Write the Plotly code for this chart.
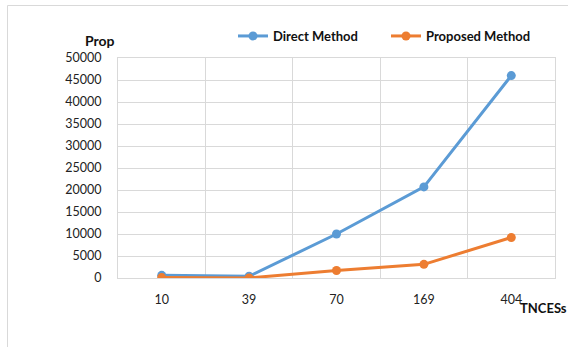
import plotly.graph_objects as go

# Problem sizes (number of TNCESs) and the measured Prop values
tnces = ["10", "39", "70", "169", "404"]
direct_method = [600, 400, 10000, 20700, 46000]
proposed_method = [100, 20, 1700, 3100, 9200]
y_ticks = list(range(0, 50001, 5000))

W, H = 568, 347
L, R, T, B = 118, 13, 58, 69
pw, ph = W - L - R, H - T - B

def px_x(x):
    return (x - L) / pw

def px_y(y):
    return (H - B - y) / ph

xpos = list(range(len(tnces)))

fig = go.Figure()
fig.add_trace(go.Scatter(
    x=xpos, y=direct_method, name="Direct Method", mode="lines+markers",
    line=dict(color="#5b9bd5", width=3), marker=dict(size=9, color="#5b9bd5"),
))
fig.add_trace(go.Scatter(
    x=xpos, y=proposed_method, name="Proposed Method", mode="lines+markers",
    line=dict(color="#ed7d31", width=3), marker=dict(size=9, color="#ed7d31"),
))

grid = "#d9d9d9"
fig.update_layout(
    width=W, height=H,
    margin=dict(l=L, r=R, t=T, b=B, pad=0),
    paper_bgcolor="white", plot_bgcolor="white",
    font=dict(family="Lato, 'Liberation Sans', sans-serif", size=12.5, color="#222"),
    showlegend=True,
    legend=dict(
        orientation="h", x=px_x(233), y=px_y(36), xanchor="left", yanchor="middle",
        font=dict(size=13, color="#111", family="Lato, sans-serif", weight="bold"),
        itemwidth=30, entrywidth=108, entrywidthmode="pixels",
        tracegroupgap=0, bgcolor="rgba(0,0,0,0)",
    ),
    xaxis=dict(
        range=[-0.5, len(tnces) - 0.5], tickmode="array", tickvals=xpos, ticktext=tnces,
        showgrid=False, zeroline=False, showline=True, mirror=True,
        linecolor=grid, linewidth=1, ticks="", ticklabelstandoff=10,
        minor=dict(tickvals=[i + 0.5 for i in xpos[:-1]], showgrid=True,
                   gridcolor=grid, gridwidth=1, ticks=""),
        fixedrange=True,
    ),
    yaxis=dict(
        range=[0, 50000], tickmode="array", tickvals=y_ticks,
        ticktext=[str(v) for v in y_ticks],
        showgrid=True, gridcolor=grid, gridwidth=1, zeroline=False,
        showline=True, mirror=True, linecolor=grid, linewidth=1,
        ticks="", ticklabelstandoff=13, fixedrange=True,
    ),
    shapes=[dict(type="rect", xref="paper", yref="paper",
                 x0=px_x(7.5), x1=px_x(572), y0=px_y(349), y1=px_y(5.5),
                 line=dict(color=grid, width=1), layer="below")],
    annotations=[
        dict(text="<b>Prop</b>", xref="paper", yref="paper", x=px_x(100), y=px_y(41),
             xanchor="center", yanchor="middle", showarrow=False,
             font=dict(size=14, color="#111")),
        dict(text="<b>TNCESs</b>", xref="paper", yref="paper", x=px_x(543), y=px_y(308),
             xanchor="center", yanchor="middle", showarrow=False,
             font=dict(size=13, color="#111")),
    ],
)

fig.write_html("out.html")
